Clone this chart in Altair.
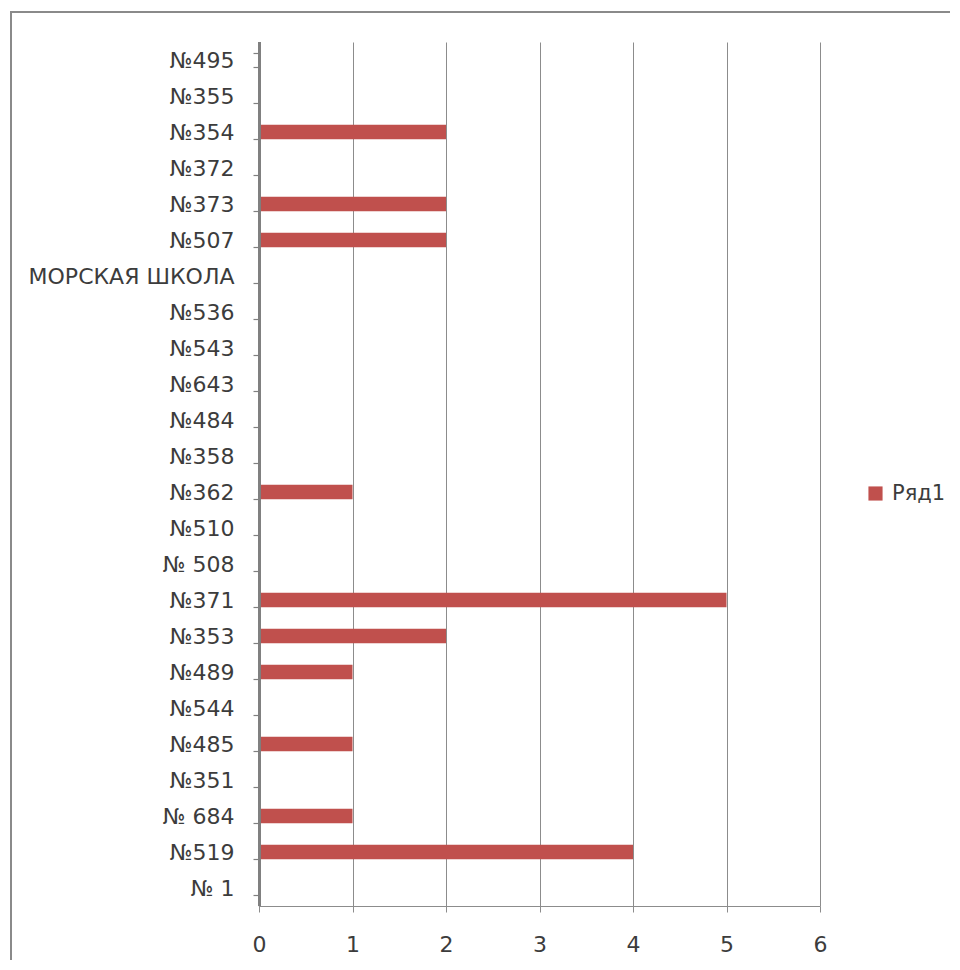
import altair as alt
import pandas as pd

schools = ["№495", "№355", "№354", "№372", "№373", "№507", "МОРСКАЯ ШКОЛА",
           "№536", "№543", "№643", "№484", "№358", "№362", "№510", "№ 508",
           "№371", "№353", "№489", "№544", "№485", "№351", "№ 684", "№519", "№ 1"]
values = [0, 0, 2, 0, 2, 2, 0, 0, 0, 0, 0, 0, 1, 0, 0, 5, 2, 1, 0, 1, 0, 1, 4, 0]
series_name = "Ряд1"
x_ticks = [0, 1, 2, 3, 4, 5, 6]

df = pd.DataFrame({"school": schools, "value": values, "series": series_name})

FONT = "DejaVu Sans"
FS = 22
LC = "#3c3c3c"
W, H = 561, 864

y_enc = alt.Y("school:N", sort=schools,
              scale=alt.Scale(domain=schools, paddingInner=0.6, paddingOuter=0.3),
              axis=alt.Axis(title=None, grid=False, tickBand="extent", domain=True,
                            domainColor="#808080", domainWidth=1.5, tickColor="#808080",
                            tickSize=6, tickWidth=1.2, zindex=1,
                            labelPadding=19, labelFont=FONT, labelFontSize=FS,
                            labelColor=LC, labelLimit=400))

x_enc = alt.X("value:Q", scale=alt.Scale(domain=[0, 6], nice=False),
              axis=alt.Axis(values=x_ticks, title=None, grid=True, labelFlush=False,
                            gridColor="#8c8c8c", gridWidth=1, domainColor="#8c8c8c",
                            tickColor="#8c8c8c", tickSize=6, labelPadding=22,
                            labelFont=FONT, labelFontSize=FS, labelColor=LC,
                            format="d"))

bars = alt.Chart(df).mark_bar().encode(
    x=x_enc,
    y=y_enc,
    color=alt.Color("series:N", scale=alt.Scale(range=["#c0504d"]),
                    legend=alt.Legend(title=None, orient="none", legendX=606,
                                      legendY=441, symbolType="square",
                                      symbolSize=200, symbolStrokeWidth=0,
                                      labelFont=FONT, labelFontSize=21,
                                      labelColor=LC, labelOffset=6)),
)

axis_line = alt.Chart(df).mark_rule(color="#808080", strokeWidth=1.5).encode(
    x=alt.value(0.5), y=alt.value(0), y2=alt.value(H)
)

frame = alt.Chart(df).mark_rect(fill="transparent", stroke="#8a8a8a", strokeWidth=2).encode(
    x=alt.value(-248), x2=alt.value(720), y=alt.value(-30), y2=alt.value(H + 120)
)

chart = alt.layer(frame, bars, axis_line).properties(
    width=W, height=H,
    autosize=alt.AutoSizeParams(type="none"),
    padding={"left": 251, "top": 34, "right": 130, "bottom": 54},
).configure_view(stroke=None)

chart.save("out.html", embed_options={"renderer": "svg", "actions": False})
